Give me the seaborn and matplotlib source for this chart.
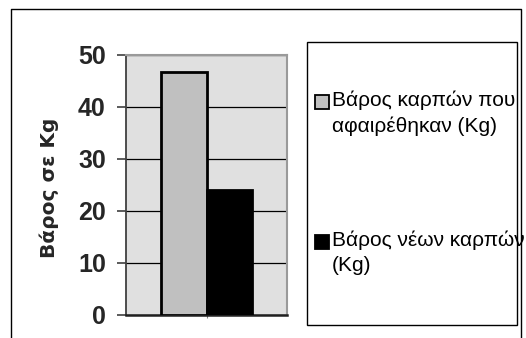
import matplotlib
matplotlib.use("Agg")
import matplotlib.pyplot as plt
import seaborn as sns
import pandas as pd
from matplotlib.patches import Rectangle
from matplotlib.lines import Line2D

categories = [""]
series = ["Βάρος καρπών που\nαφαιρέθηκαν (Kg)", "Βάρος νέων καρπών\n(Kg)"]
values = [46.7, 24.0]
colors = ["#c0c0c0", "#000000"]
y_ticks = [0, 10, 20, 30, 40, 50]
y_label = "Βάρος σε Kg"

sns.set_theme(style="white")
plt.rcParams["font.family"] = ["Liberation Sans", "DejaVu Sans"]

W, H = 526, 338
fig = plt.figure(figsize=(W / 100, H / 100), dpi=100)
ax = fig.add_axes([126 / W, 1 - 315 / H, (287 - 126) / W, (315 - 55) / H])

df = pd.DataFrame({"cat": categories * len(series), "series": series, "value": values})
sns.barplot(data=df, x="cat", y="value", hue="series", palette=colors,
            edgecolor="black", linewidth=2, width=0.57, ax=ax, legend=False,
            zorder=3)

ax.set_facecolor("#e0e0e0")
ax.set_xlim(-0.5, 0.5)
ax.set_ylim(0, 50)
ax.yaxis.grid(True, color="black", linewidth=0.9, zorder=0)
ax.set_axisbelow(True)
ax.tick_params(axis="y", direction="out", length=6.5, width=1.2, color="#404040",
               pad=8, left=True, labelsize=18)
ax.tick_params(axis="x", direction="out", length=2, width=0.8, color="#808080",
               bottom=True, labelbottom=False)
ax.set_yticks(y_ticks, labels=[str(t) for t in y_ticks], fontsize=18, fontweight="bold")
ax.set_xlabel("")
ax.set_ylabel(y_label, fontsize=14.5, fontweight="bold", family="DejaVu Sans")
ax.yaxis.set_label_coords(59 / W, 1 - 188 / H, transform=fig.transFigure)

for side in ["top", "right"]:
    ax.spines[side].set_color("#9a9a9a")
    ax.spines[side].set_linewidth(1.5)
ax.spines["left"].set_color("#404040")
ax.spines["left"].set_linewidth(1.3)
ax.spines["bottom"].set_color("#202020")
ax.spines["bottom"].set_linewidth(1.8)

# outer chart border
fig.add_artist(Line2D([11 / W, 11 / W, 521 / W, 521 / W], [-0.01, 1 - 9 / H, 1 - 9 / H, -0.01],
                      transform=fig.transFigure, color="black", linewidth=1.0))

# legend box
lx0, lx1, ly0, ly1 = 307, 517, 42, 325
fig.add_artist(Rectangle((lx0 / W, 1 - ly1 / H), (lx1 - lx0) / W, (ly1 - ly0) / H,
                         transform=fig.transFigure, facecolor="white",
                         edgecolor="black", linewidth=1.0))
entries_top = [95, 235]
for lab, col, top in zip(series, colors, entries_top):
    fig.add_artist(Rectangle((315 / W, 1 - (top + 14) / H), 14 / W, 14 / H,
                             transform=fig.transFigure, facecolor=col,
                             edgecolor="black", linewidth=1.3))
    fig.text(332 / W, 1 - (top - 5) / H, lab, fontsize=15, color="black",
             ha="left", va="top", linespacing=1.42)

fig.savefig("out.png", dpi=100)
